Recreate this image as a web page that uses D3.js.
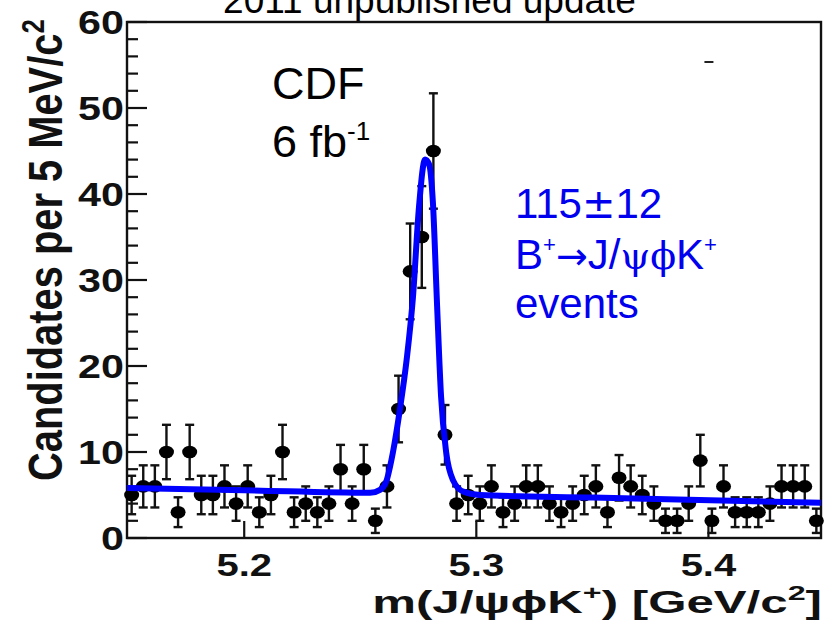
<!DOCTYPE html>
<html><head><meta charset="utf-8">
<script src="https://cdn.jsdelivr.net/npm/d3@7"></script>
<style>body{margin:0;background:#fff;overflow:hidden}</style>
</head><body>
<svg id="chart" width="825" height="622"></svg>
<script>
// ---- data ----
const massBins = [5.1515,5.1565,5.1615,5.1665,5.1715,5.1765,5.1815,5.1865,5.1915,5.1965,
  5.2015,5.2065,5.2115,5.2165,5.2215,5.2265,5.2315,5.2365,5.2415,5.2465,
  5.2515,5.2565,5.2615,5.2665,5.2715,5.2765,5.2815,5.2865,5.2915,5.2965,
  5.3015,5.3065,5.3115,5.3165,5.3215,5.3265,5.3315,5.3365,5.3415,5.3465,
  5.3515,5.3565,5.3615,5.3665,5.3715,5.3765,5.3815,5.3865,5.3915,5.3965,
  5.4015,5.4065,5.4115,5.4165,5.4215,5.4265,5.4315,5.4365,5.4415,5.4465];
const counts = [5,6,6,10,3,10,5,5,6,4,
  6,3,5,10,3,4,3,4,8,4,
  8,2,6,15,31,35,45,12,4,5,
  4,6,3,4,6,6,4,3,4,5,
  6,3,7,6,5,4,2,2,4,9,
  2,6,3,3,3,4,6,6,6,2];
// fitted curve
const fitMass  = [5.1495,5.2000,5.2542,5.2585,5.2611,5.2641,5.2671,5.2701,5.2727,5.2753,5.2779,5.2796,5.2813,5.2831,5.2848,5.2870,5.2900,5.2943,5.3016,5.3500,5.4485];
const fitValue = [5.8,   5.55,  5.25,  5.6,   6.5,   10,    15,    21,    28,    38.5,  44,    43.5,  39,    27,    16.5,  10,    6.7,   5.4,   5.0,   4.7,   4.1];
const yMajorTicks = [0,10,20,30,40,50,60];
const yMinorTicks = [2,4,6,8,12,14,16,18,22,24,26,28,32,34,36,38,42,44,46,48,52,54,56,58];
const xMajorTicks = [5.2,5.3,5.4];
const xTickLabels = ["5.2","5.3","5.4"];
const yTickLabels = ["0","10","20","30","40","50","60"];

const svg = d3.select("#chart");
const x = d3.scaleLinear().domain([5.1495, 5.4485]).range([127, 821]);
const y = d3.scaleLinear().domain([0, 60]).range([538, 22]);
const f = "'Liberation Sans', Arial, sans-serif";
const ink = "#111";

// frame
svg.append("rect").attr("x", x.range()[0]).attr("y", y.range()[1])
  .attr("width", x.range()[1]-x.range()[0]).attr("height", y.range()[0]-y.range()[1])
  .attr("fill","none").attr("stroke",ink).attr("stroke-width",2.4);

// y ticks (inward)
svg.append("g").selectAll("line").data(yMajorTicks).join("line")
  .attr("x1", x.range()[0]).attr("x2", x.range()[0]+20)
  .attr("y1", d=>y(d)).attr("y2", d=>y(d)).attr("stroke",ink).attr("stroke-width",2.2);
svg.append("g").selectAll("line").data(yMinorTicks).join("line")
  .attr("x1", x.range()[0]).attr("x2", x.range()[0]+11)
  .attr("y1", d=>y(d)).attr("y2", d=>y(d)).attr("stroke",ink).attr("stroke-width",2.2);
// x ticks (inward)
svg.append("g").selectAll("line").data(xMajorTicks).join("line")
  .attr("x1", d=>x(d)).attr("x2", d=>x(d))
  .attr("y1", y.range()[0]).attr("y2", y.range()[0]-17).attr("stroke",ink).attr("stroke-width",2.2);

// horizontally stretched bold labels (the reference is widened)
const SX = 1.25;
svg.append("g").selectAll("g").data(yMajorTicks).join("g")
  .attr("transform", d=>`translate(124,${y(d)}) scale(${SX},1)`)
  .append("text").attr("dy","0.36em").attr("text-anchor","end")
  .attr("font-family",f).attr("font-weight","bold").attr("font-size",33).attr("fill",ink)
  .text((d,i)=>yTickLabels[i]);
svg.append("g").selectAll("g").data(xMajorTicks).join("g")
  .attr("transform", d=>`translate(${x(d)},576) scale(${SX},1)`)
  .append("text").attr("text-anchor","middle")
  .attr("font-family",f).attr("font-weight","bold").attr("font-size",32).attr("fill",ink)
  .text((d,i)=>xTickLabels[i]);

// x axis title
const xtg = svg.append("g");
const xt = xtg.append("text").attr("text-anchor","end")
  .attr("font-family",f).attr("font-weight","bold").attr("font-size",32).attr("fill",ink);
xt.append("tspan").text("m(J/ψϕK");
xt.append("tspan").attr("dy",-13).attr("font-size",21).text("+");
xt.append("tspan").attr("dy",13).text(") [GeV/c");
xt.append("tspan").attr("dy",-13).attr("font-size",21).text("2");
xt.append("tspan").attr("dy",13).text("]");
const xtw = xt.node().getBBox().width;
xtg.attr("transform", `translate(822,613) scale(${450/xtw},1)`);

// y axis title (rotated, thickened along x)
const ytg = svg.append("g");
const yt = ytg.append("text").attr("text-anchor","start").attr("font-family",f).attr("font-weight","bold")
  .attr("font-size",40).attr("fill",ink).attr("transform","rotate(-90)");
yt.append("tspan").text("Candidates per 5 MeV/c");
yt.append("tspan").attr("dy",-15).attr("font-size",26).text("2");
const ytl = yt.node().getBBox().width;
ytg.attr("transform", `translate(62,481) scale(1.18,${462/ytl})`);

// small stray mark near top
svg.append("line").attr("x1", x(5.4)-4).attr("x2", x(5.4)+5).attr("y1",62).attr("y2",62)
  .attr("stroke","#222").attr("stroke-width",2);

// error bars + markers
const pts = massBins.map((m,i)=>({m, n:counts[i], e:Math.sqrt(counts[i])}));
const eb = svg.append("g").attr("stroke",ink).attr("stroke-width",2.4);
eb.selectAll("line.v").data(pts).join("line").attr("class","v")
  .attr("x1",d=>x(d.m)).attr("x2",d=>x(d.m)).attr("y1",d=>y(d.n+d.e)).attr("y2",d=>y(Math.max(0,d.n-d.e)));
eb.selectAll("line.t").data(pts).join("line").attr("class","t")
  .attr("x1",d=>x(d.m)-4.5).attr("x2",d=>x(d.m)+4.5).attr("y1",d=>y(d.n+d.e)).attr("y2",d=>y(d.n+d.e));
eb.selectAll("line.b").data(pts).join("line").attr("class","b")
  .attr("x1",d=>x(d.m)-4.5).attr("x2",d=>x(d.m)+4.5).attr("y1",d=>y(Math.max(0,d.n-d.e))).attr("y2",d=>y(Math.max(0,d.n-d.e)));
svg.append("g").selectAll("ellipse").data(pts).join("ellipse")
  .attr("cx",d=>x(d.m)).attr("cy",d=>y(d.n)).attr("rx",7.5).attr("ry",6.3).attr("fill","#000");

// fit curve
const line = d3.line().x((d,i)=>x(fitMass[i])).y((d,i)=>y(fitValue[i])).curve(d3.curveMonotoneX);
svg.append("path").attr("d", line(fitMass)).attr("fill","none").attr("stroke","#0000ff")
  .attr("stroke-width",6).attr("stroke-linejoin","round");

// annotations
svg.append("text").attr("x",429.5).attr("y",13).attr("text-anchor","middle").attr("font-family",f)
  .attr("font-size",37).attr("fill","#000").text("2011 unpublished update");
svg.append("text").attr("x",272).attr("y",99).attr("font-family",f).attr("font-size",45).attr("fill","#000").text("CDF");
const lum = svg.append("text").attr("x",272).attr("y",157).attr("font-family",f).attr("font-size",45).attr("fill","#000");
lum.append("tspan").text("6 fb");
lum.append("tspan").attr("dy",-17).attr("font-size",26).text("-1");

const blue = "#0000ee";
const t1 = svg.append("text").attr("x",515).attr("y",218).attr("font-family",f).attr("font-size",42).attr("fill",blue);
t1.append("tspan").text("115");
t1.append("tspan").attr("font-family","'DejaVu Sans', sans-serif").attr("font-size",40).text("±");
t1.append("tspan").text("12");
const dec = svg.append("text").attr("x",515).attr("y",269).attr("font-family",f).attr("font-size",42).attr("fill",blue);
dec.append("tspan").text("B");
dec.append("tspan").attr("dy",-17).attr("font-size",22).text("+");
dec.append("tspan").attr("dy",17).attr("font-family","'DejaVu Sans'").attr("font-size",38).text("→");
dec.append("tspan").text("J/");
dec.append("tspan").attr("font-family","'DejaVu Serif', serif").attr("font-size",38).text("ψϕ");
dec.append("tspan").text("K");
dec.append("tspan").attr("dy",-17).attr("font-size",22).text("+");
svg.append("text").attr("x",515).attr("y",318).attr("font-family",f).attr("font-size",42).attr("fill",blue).text("events");
</script>
</body></html>
